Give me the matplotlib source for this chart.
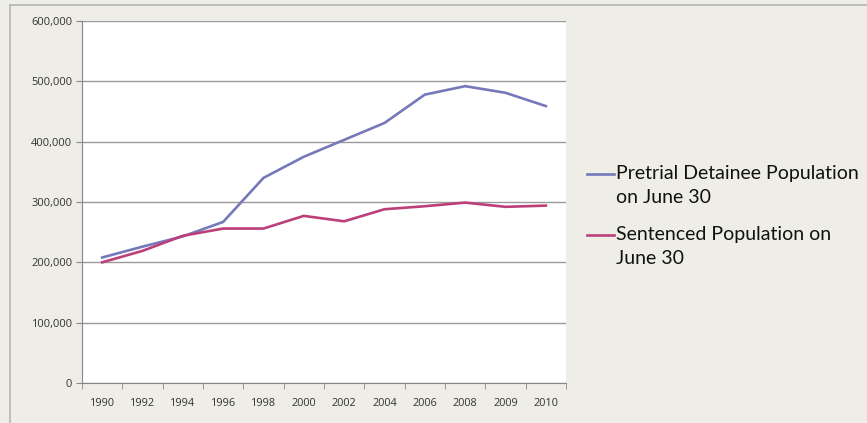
import matplotlib.pyplot as plt
from matplotlib.lines import Line2D

years = ['1990', '1992', '1994', '1996', '1998', '2000', '2002', '2004',
         '2006', '2008', '2009', '2010']
pretrial = [208000, 226000, 243000, 267000, 340000, 375000, 403000, 431000,
            478000, 492000, 481000, 459000]
sentenced = [200000, 219000, 244000, 256000, 256000, 277000, 268000, 288000,
             293000, 299000, 292000, 294000]
yticks = [0, 100000, 200000, 300000, 400000, 500000, 600000]
labels = ['Pretrial Detainee Population\non June 30', 'Sentenced Population on\nJune 30']

bg = '#EEEDE6'
col_pre = '#7679B9'
col_sen = '#BC3F79'
W, H = 867, 423

fig = plt.figure(figsize=(W / 100, H / 100), dpi=100, facecolor=bg)
# outer chart border (top and left edges visible)
fig.add_artist(Line2D([10/W, 10/W], [0, 1 - 5/H], color='#B5B5B0', lw=1.2))
fig.add_artist(Line2D([10/W, 1], [1 - 5/H, 1 - 5/H], color='#B5B5B0', lw=1.2))

ax = fig.add_axes([82/W, 1 - 383/H, (566 - 82)/W, (383 - 21)/H])
ax.set_facecolor('white')

x = list(range(len(years)))
ax.plot(x, pretrial, color=col_pre, lw=1.9)
ax.plot(x, sentenced, color=col_sen, lw=1.9)

ax.set_xlim(-0.5, len(years) - 0.5)
ax.set_ylim(0, 600000)
ax.set_yticks(yticks)
ax.set_yticklabels([f'{v:,}' for v in yticks], fontsize=8, color='#333333',
                   family='Open Sans')
ax.yaxis.grid(True, color='#9A9A9A', lw=1)
ax.set_axisbelow(True)

# category labels centered, tick marks between categories
ax.set_xticks(x)
ax.set_xticklabels(years, fontsize=7.8, color='#333333', family='Open Sans')
ax.tick_params(axis='x', length=0, pad=11)
ax.set_xticks([i - 0.5 for i in range(len(years) + 1)], minor=True)
ax.tick_params(axis='x', which='minor', length=4, color='#888888', direction='out')
ax.tick_params(axis='y', length=4, color='#888888', direction='out', pad=3)

for s in ['top', 'right']:
    ax.spines[s].set_visible(False)
ax.spines['left'].set_color('#888888')
ax.spines['bottom'].set_color('#888888')

# legend: handle aligned with first line of each label
for (lab, col, ytop) in [(labels[0], col_pre, 174), (labels[1], col_sen, 235)]:
    fig.add_artist(Line2D([587/W, 614/W], [1 - ytop/H, 1 - ytop/H], color=col, lw=1.9))
    fig.text(616/W, 1 - (ytop - 9)/H, lab, fontsize=14, family='Lato',
             color='#111111', va='top', ha='left', linespacing=1.5)

fig.savefig('out.png', dpi=100, facecolor=bg)
